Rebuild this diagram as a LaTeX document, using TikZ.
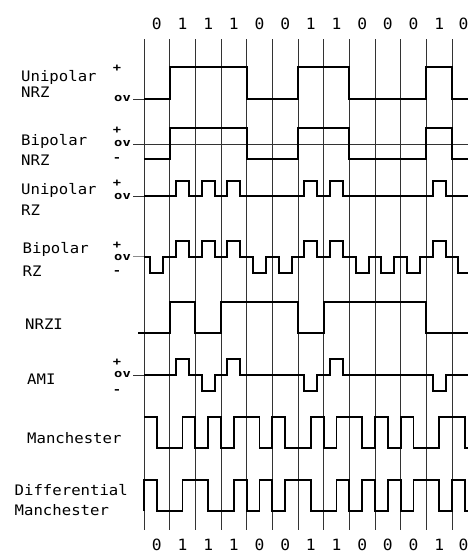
\documentclass[tikz,border=0pt]{standalone}
\usepackage{fontspec}
\setmonofont{DejaVu Sans Mono}
\begin{document}
\begin{tikzpicture}[x=1pt,y=-1pt,
  lbl/.style={anchor=base west,inner sep=0pt,font=\ttfamily\fontsize{14.5}{14.5}\selectfont,xscale=1.08},
  bitlbl/.style={inner sep=0pt,font=\ttfamily\fontsize{15.5}{15.5}\selectfont,xscale=1.05},
  lvl/.style={inner sep=0pt,font=\ttfamily\bfseries\fontsize{11}{11}\selectfont,xscale=1.25},
  sig/.style={line width=1.9pt,line join=miter,black},
  grid/.style={line width=0.9pt,black!80},
  zero/.style={line width=0.9pt,black!80}]
\useasboundingbox (0,0) rectangle (468,554);
\clip (0,0) rectangle (468,554);

% grid and bit labels
\begin{scope}[x=25.667pt,xshift=144pt]
  \foreach \i in {0,...,12} {\draw[grid] (\i,39) -- (\i,530);}
  \foreach \b [count=\i from 0] in {0,1,1,1,0,0,1,1,0,0,0,1} {
    \node[bitlbl] (t\i) at (\i+0.5,23.5) {\b};
    \node[bitlbl] (b\i) at (\i+0.5,545) {\b};
  }
  \node[bitlbl] (t12) at (12.45,23.5) {0};
  \node[bitlbl] (b12) at (12.45,545) {0};
\end{scope}

% left labels
\node[lbl] (l1a) at (21,81.5) {Unipolar};
\node[lbl] (l1b) at (21,97.7) {NRZ};
\node[lbl] (l2a) at (21,145) {Bipolar};
\node[lbl] (l2b) at (21,165) {NRZ};
\node[lbl] (l3a) at (21,194) {Unipolar};
\node[lbl] (l3b) at (21,215) {RZ};
\node[lbl] (l4a) at (22.5,253.3) {Bipolar};
\node[lbl] (l4b) at (22.5,276) {RZ};
\node[lbl] (l5) at (25,329.3) {NRZI};
\node[lbl] (l6) at (27,384.5) {AMI};
\node[lbl] (l7) at (27,443.3) {Manchester};
\node[lbl] (l8a) at (14.5,495) {Differential};
\node[lbl] (l8b) at (14.5,515) {Manchester};

% level markers
\node[lvl] (p1) at (117,68) {+};
\node[lvl] (z1) at (122.5,98) {ov};
\node[lvl] (p2) at (117,130.5) {+};
\node[lvl] (z2) at (122.5,143) {ov};
\node[lvl] (m2) at (117,159.5) {-};
\node[lvl] (p3) at (117,183.5) {+};
\node[lvl] (z3) at (122.5,196.5) {ov};
\node[lvl] (p4) at (117,245) {+};
\node[lvl] (z4) at (122.5,257.5) {ov};
\node[lvl] (m4) at (117,272.5) {-};
\node[lvl] (p6) at (117,362.5) {+};
\node[lvl] (z6) at (122.5,374.5) {ov};
\node[lvl] (m6) at (117,391.5) {-};

% zero-volt reference lines
\draw[zero] (133,99) -- (144,99);
\draw[zero] (133,144) -- (468,144);
\draw[zero] (133,196) -- (144,196);
\draw[zero,black!45] (133,256.7) -- (144,256.7);
\draw[zero] (133,375.3) -- (144,375.3);

\begin{scope}[x=25.667pt,xshift=144pt]
% Unipolar NRZ
\draw[sig] (0,99)--(1,99)--(1,66.7)--(4,66.7)--(4,99)--(6,99)--(6,66.7)--(8,66.7)--(8,99)--(11,99)--(11,66.7)--(12,66.7)--(12,99)--(12.7,99);
% Bipolar NRZ
\draw[sig] (0,159.3)--(1,159.3)--(1,127.7)--(4,127.7)--(4,159.3)--(6,159.3)--(6,127.7)--(8,127.7)--(8,159.3)--(11,159.3)--(11,127.7)--(12,127.7)--(12,159.3)--(12.7,159.3);
% Unipolar RZ
\draw[sig] (0,196)
  --(1.25,196)--(1.25,180.7)--(1.75,180.7)--(1.75,196)
  --(2.25,196)--(2.25,180.7)--(2.75,180.7)--(2.75,196)
  --(3.25,196)--(3.25,180.7)--(3.75,180.7)--(3.75,196)
  --(6.25,196)--(6.25,180.7)--(6.75,180.7)--(6.75,196)
  --(7.25,196)--(7.25,180.7)--(7.75,180.7)--(7.75,196)
  --(11.25,196)--(11.25,180.7)--(11.75,180.7)--(11.75,196)
  --(12.7,196);
% Bipolar RZ
\draw[sig] (0,256.7)
  --(0.25,256.7)--(0.25,272.7)--(0.75,272.7)--(0.75,256.7)
  --(1.25,256.7)--(1.25,241)--(1.75,241)--(1.75,256.7)
  --(2.25,256.7)--(2.25,241)--(2.75,241)--(2.75,256.7)
  --(3.25,256.7)--(3.25,241)--(3.75,241)--(3.75,256.7)
  --(4.25,256.7)--(4.25,272.7)--(4.75,272.7)--(4.75,256.7)
  --(5.25,256.7)--(5.25,272.7)--(5.75,272.7)--(5.75,256.7)
  --(6.25,256.7)--(6.25,241)--(6.75,241)--(6.75,256.7)
  --(7.25,256.7)--(7.25,241)--(7.75,241)--(7.75,256.7)
  --(8.25,256.7)--(8.25,272.7)--(8.75,272.7)--(8.75,256.7)
  --(9.25,256.7)--(9.25,272.7)--(9.75,272.7)--(9.75,256.7)
  --(10.25,256.7)--(10.25,272.7)--(10.75,272.7)--(10.75,256.7)
  --(11.25,256.7)--(11.25,241)--(11.75,241)--(11.75,256.7)
  --(12.25,256.7)--(12.25,272.7)--(12.7,272.7);
% NRZI
\draw[sig] (-0.222,333.3)--(1,333.3)--(1,301.7)--(2,301.7)--(2,333.3)--(3,333.3)--(3,301.7)--(6,301.7)--(6,333.3)--(7,333.3)--(7,301.7)--(11,301.7)--(11,333.3)--(12.7,333.3);
% AMI
\draw[sig] (0,375.3)
  --(1.25,375.3)--(1.25,359.3)--(1.75,359.3)--(1.75,375.3)
  --(2.25,375.3)--(2.25,391.3)--(2.75,391.3)--(2.75,375.3)
  --(3.25,375.3)--(3.25,359.3)--(3.75,359.3)--(3.75,375.3)
  --(6.25,375.3)--(6.25,391.3)--(6.75,391.3)--(6.75,375.3)
  --(7.25,375.3)--(7.25,359.3)--(7.75,359.3)--(7.75,375.3)
  --(11.25,375.3)--(11.25,391.3)--(11.75,391.3)--(11.75,375.3)
  --(12.7,375.3);
% Manchester
\draw[sig] (0,417.3)--(0.5,417.3)--(0.5,448.3)--(1.5,448.3)--(1.5,417.3)--(2,417.3)--(2,448.3)--(2.5,448.3)--(2.5,417.3)--(3,417.3)--(3,448.3)--(3.5,448.3)--(3.5,417.3)--(4.5,417.3)--(4.5,448.3)--(5,448.3)--(5,417.3)--(5.5,417.3)--(5.5,448.3)--(6.5,448.3)--(6.5,417.3)--(7,417.3)--(7,448.3)--(7.5,448.3)--(7.5,417.3)--(8.5,417.3)--(8.5,448.3)--(9,448.3)--(9,417.3)--(9.5,417.3)--(9.5,448.3)--(10,448.3)--(10,417.3)--(10.5,417.3)--(10.5,448.3)--(11.5,448.3)--(11.5,417.3)--(12.5,417.3)--(12.5,448.3)--(12.7,448.3);
% Differential Manchester
\draw[sig] (0,511)--(0,480)--(0.5,480)--(0.5,511)--(1.5,511)--(1.5,480)--(2.5,480)--(2.5,511)--(3.5,511)--(3.5,480)--(4,480)--(4,511)--(4.5,511)--(4.5,480)--(5,480)--(5,511)--(5.5,511)--(5.5,480)--(6.5,480)--(6.5,511)--(7.5,511)--(7.5,480)--(8,480)--(8,511)--(8.5,511)--(8.5,480)--(9,480)--(9,511)--(9.5,511)--(9.5,480)--(10,480)--(10,511)--(10.5,511)--(10.5,480)--(11.5,480)--(11.5,511)--(12,511)--(12,480)--(12.5,480)--(12.5,511)--(12.7,511);
\end{scope}
\end{tikzpicture}
\end{document}
